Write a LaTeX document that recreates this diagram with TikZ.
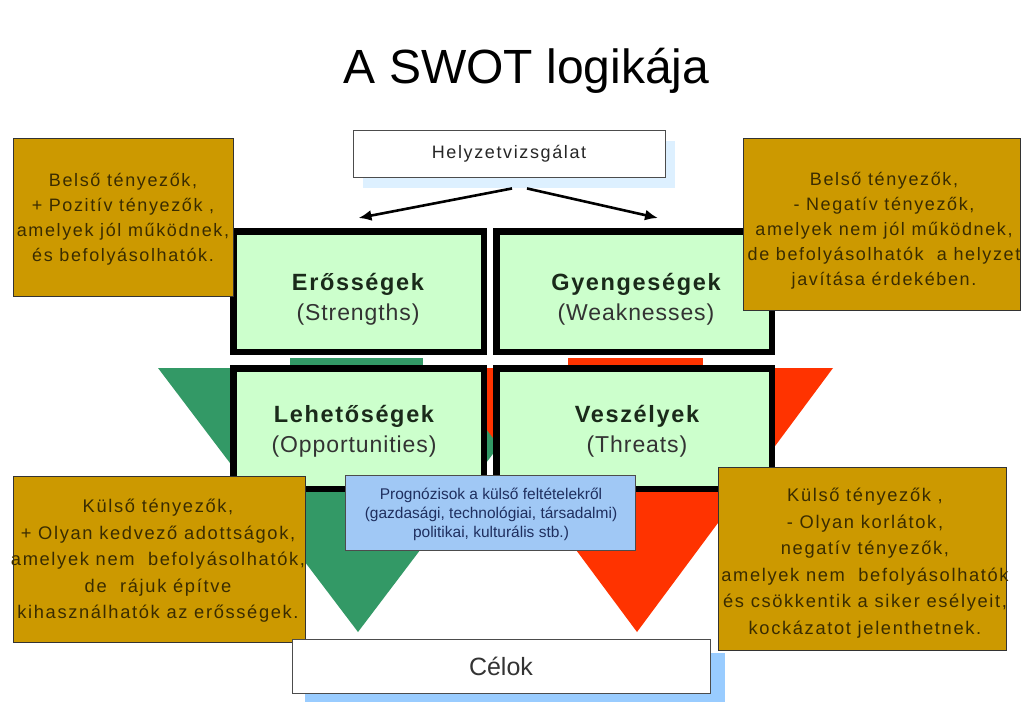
\documentclass[tikz,border=0pt]{standalone}
\usepackage{fontspec}
\setmainfont{Liberation Sans}
\newfontfamily\lsfont[LetterSpace=9]{Liberation Sans}
\newfontfamily\lbfont[LetterSpace=4]{Liberation Sans}
\newfontfamily\lbbfont[LetterSpace=7]{Liberation Sans}
\usetikzlibrary{arrows.meta}
\definecolor{boxgreen}{HTML}{CCFFCC}
\definecolor{trigreen}{HTML}{339966}
\definecolor{trired}{HTML}{FF3300}
\definecolor{ochre}{HTML}{CC9900}
\definecolor{ochretext}{HTML}{3A2C00}
\definecolor{progblue}{HTML}{A0C8F5}
\definecolor{shadowblue}{HTML}{99CCFF}
\definecolor{paleshadow}{HTML}{DDF0FF}
\definecolor{navytext}{HTML}{1F2F5F}
\definecolor{labeltext}{HTML}{1A2A1A}
\begin{document}
\begin{tikzpicture}[x=1pt,y=-1pt,
  swotbox/.style={draw=black, line width=6.5pt, fill=boxgreen, inner sep=0pt},
  ochrebox/.style={draw=black!80, line width=0.9pt, fill=ochre, inner sep=0pt},
  ochretxt/.style={align=center, text=ochretext, font=\lsfont\fontsize{18}{25}\selectfont, inner sep=0pt},
  ochretxtb/.style={align=center, text=ochretext, font=\lsfont\fontsize{18.3}{26.5}\selectfont, inner sep=0pt},
  whitebox/.style={draw=black!70, line width=0.9pt, fill=white, inner sep=0pt},
  headlbl/.style={anchor=base, inner sep=0pt, text=labeltext, font=\lbbfont\bfseries\fontsize{23.5}{28}\selectfont},
  sublbl/.style={anchor=base, inner sep=0pt, text=black!80, font=\lbfont\fontsize{23}{28}\selectfont},
  arr/.style={line width=2.6pt, -{Latex[length=13pt,width=11pt]}}
]
\useasboundingbox[fill=white] (0,0) rectangle (1021,702);

% title
\node[anchor=base, inner sep=0pt, font=\fontsize{48}{56}\selectfont] (title) at (526.5,83) {A SWOT logikája};

% triangles behind
\fill[trigreen] (158,368) -- (558,368) -- (358,632) -- cycle;
\fill[trired] (441,368) -- (833,368) -- (637,632) -- cycle;
% bars in the gap
\fill[trigreen] (290,358) rectangle (423,365);
\fill[trired] (568,358) rectangle (703,365);

% Helyzetvizsgalat
\fill[paleshadow] (363,141) rectangle (675,188);
\node[whitebox, minimum width=312, minimum height=47, text=black!85,
      font=\lsfont\fontsize{18}{20}\selectfont] (H) at (509,153.5) {Helyzetvizsgálat};

% SWOT boxes
\node[swotbox, minimum width=250.5, minimum height=120.5] (S) at (358.5,291.5) {};
\node[swotbox, minimum width=275.5, minimum height=120.5] (W) at (634,291.5) {};
\node[swotbox, minimum width=250.5, minimum height=120.5] (O) at (358.5,428.5) {};
\node[swotbox, minimum width=275.5, minimum height=120.5] (T) at (634,428.5) {};

\node[headlbl] (S1) at (358,290) {Erősségek};
\node[sublbl] (S2) at (358,320) {(Strengths)};
\node[headlbl] (W1) at (636,290) {Gyengeségek};
\node[sublbl] (W2) at (636,320) {(Weaknesses)};
\node[headlbl] (O1) at (354,422) {Lehetőségek};
\node[sublbl] (O2) at (354,452) {(Opportunities)};
\node[headlbl] (T1) at (637,422) {Veszélyek};
\node[sublbl] (T2) at (637,452) {(Threats)};

% arrows
\draw[arr] ([xshift=3pt,yshift=-11pt]H.south) -- ([yshift=10pt]S.north);
\draw[arr] ([xshift=18pt,yshift=-11pt]H.south) -- ([xshift=24pt,yshift=10pt]W.north);

% ochre boxes
\node[ochrebox, minimum width=220, minimum height=158] (TL) at (123,217) {};
\node[ochretxt] (TLt) at (123,219) {Belső tényezők,\\+ Pozitív tényezők ,\\amelyek jól működnek,\\és befolyásolhatók.};

\node[ochrebox, minimum width=277, minimum height=172] (TR) at (881.5,224) {};
\node[ochretxt] (TRt) at (884,231) {Belső tényezők,\\- Negatív tényezők,\\amelyek nem jól működnek,\\de befolyásolhatók\ \ a helyzet\\javítása érdekében.};

\node[ochrebox, minimum width=292, minimum height=166] (BL) at (159,559) {};
\node[ochretxtb] (BLt) at (158,561) {Külső tényezők,\\+ Olyan kedvező adottságok,\\amelyek nem\ \ befolyásolhatók,\\de\ \ rájuk építve\\kihasználhatók az erősségek.};

\node[ochrebox, minimum width=288, minimum height=183] (BR) at (862,558.5) {};
\node[ochretxtb] (BRt) at (865,563) {Külső tényezők ,\\- Olyan korlátok,\\negatív tényezők,\\amelyek nem\ \ befolyásolhatók\\és csökkentik a siker esélyeit,\\kockázatot jelenthetnek.};

% prognosis box
\node[draw=black!70, line width=0.9pt, fill=progblue, minimum width=290, minimum height=75, inner sep=0pt] (P) at (490,512.5) {};
\node[align=center, inner sep=0pt, text=navytext, font=\fontsize{15.5}{19}\selectfont] (Pt) at (491,514) {Prognózisok a külső feltételekről\\(gazdasági, technológiai, társadalmi)\\politikai, kulturális stb.)};

% Celok
\fill[shadowblue] (305,653) rectangle (725,702);
\node[whitebox, minimum width=418, minimum height=54, text=black!80,
      font=\fontsize{25}{30}\selectfont] (C) at (501,666) {Célok};
\end{tikzpicture}
\end{document}
